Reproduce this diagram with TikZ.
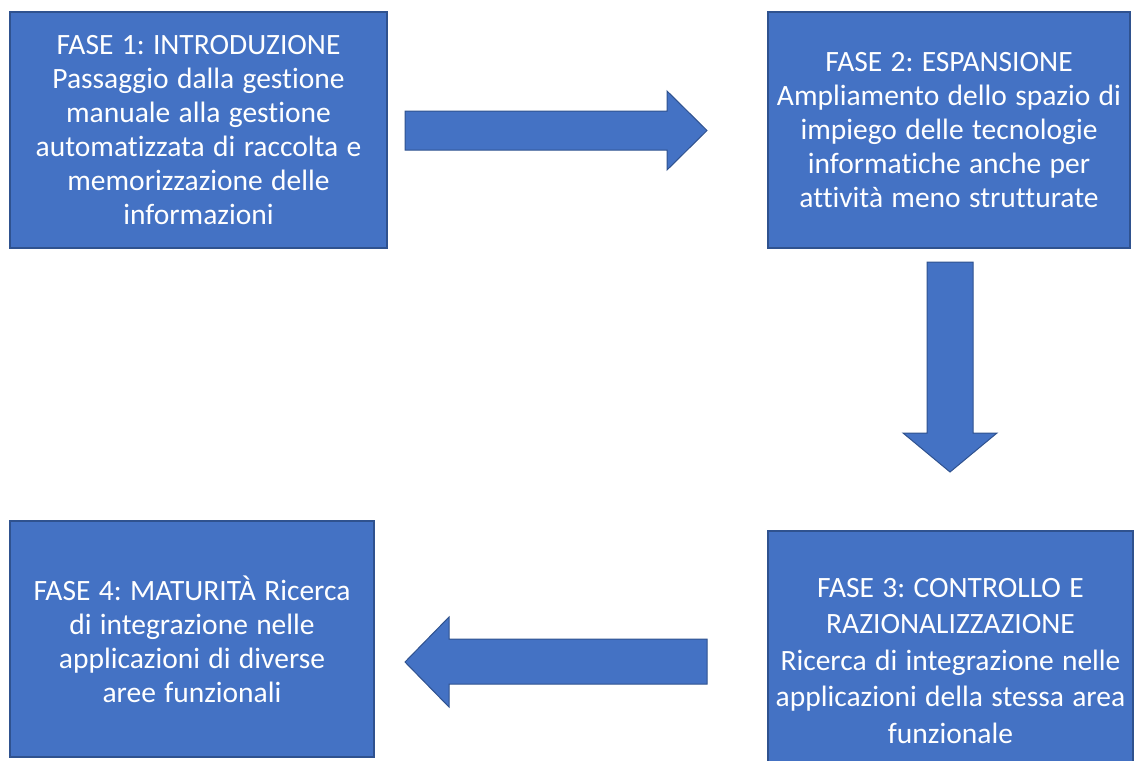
\documentclass[tikz,border=0pt]{standalone}
\usepackage{fontspec}
\setmainfont{Carlito}[Ligatures={NoCommon}, WordSpace=1.25]
\frenchspacing
\definecolor{phasefill}{HTML}{4472C4}
\definecolor{phaseedge}{HTML}{2F528F}
\begin{document}
\begin{tikzpicture}[x=1pt,y=-1pt,
  phasebox/.style={draw=phaseedge, line width=1.3pt, fill=phasefill,
    text=white, align=center, inner sep=0pt,
    font=\fontsize{29.5}{34}\selectfont},
  blockarrow/.style={draw=phaseedge, line width=1pt, fill=phasefill, line join=miter}]
\useasboundingbox (0,0) rectangle (1134,760);

% the four phases
\node[phasebox, minimum width=377pt, minimum height=236pt] (p1) at (198.5,130)
  {FASE 1: INTRODUZIONE\\Passaggio dalla gestione\\manuale alla gestione\\automatizzata di raccolta e\\memorizzazione delle\\informazioni};
\node[phasebox, minimum width=362pt, minimum height=236pt] (p2) at (949,130)
  {FASE 2: ESPANSIONE\\Ampliamento dello spazio di\\impiego delle tecnologie\\informatiche anche per\\attività meno strutturate};
\node[phasebox, minimum width=365pt, minimum height=260pt,
      font=\fontsize{29.5}{36.5}\selectfont] (p3) at (950.5,661)
  {FASE 3: CONTROLLO E\\RAZIONALIZZAZIONE\\Ricerca di integrazione nelle\\applicazioni della stessa area\\funzionale};
\node[phasebox, minimum width=364pt, minimum height=236pt] (p4) at (192,639)
  {FASE 4: MATURITÀ Ricerca\\di integrazione nelle\\applicazioni di diverse\\aree funzionali};

% block arrows between the phases
\draw[blockarrow] (405,111) -- (667,111) -- (667,91) -- (707,130.5)
  -- (667,170) -- (667,150) -- (405,150) -- cycle;
\draw[blockarrow] (927,262) -- (973,262) -- (973,433) -- (997,433)
  -- (950,472) -- (903,433) -- (927,433) -- cycle;
\draw[blockarrow] (707,639) -- (449,639) -- (449,617) -- (405,662)
  -- (449,707) -- (449,684) -- (707,684) -- cycle;
\end{tikzpicture}
\end{document}
